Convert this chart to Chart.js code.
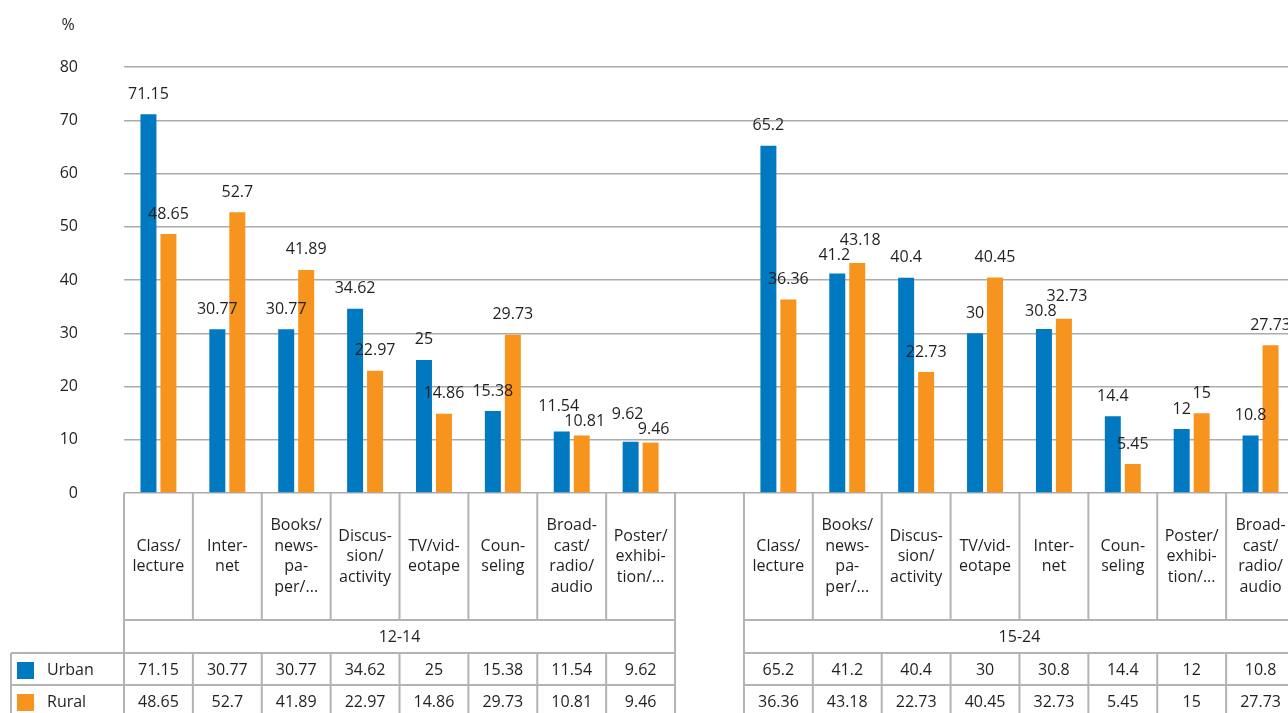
<!DOCTYPE html>
<html>
<head>
<meta charset="utf-8">
<script src="https://cdn.jsdelivr.net/npm/chart.js@4/dist/chart.umd.min.js"></script>
<style>
  html, body { margin: 0; padding: 0; background: #fff; overflow: hidden; }
  #wrap { width: 1300px; height: 713px; }
</style>
</head>
<body>
<div id="wrap"><canvas id="chart" width="1300" height="713"></canvas></div>
<script>
// categories per age group (wrapped the same way as the source table)
const catsYoung = [
  ['Class/', 'lecture'], ['Inter-', 'net'], ['Books/', 'news-', 'pa-', 'per/...'],
  ['Discus-', 'sion/', 'activity'], ['TV/vid-', 'eotape'], ['Coun-', 'seling'],
  ['Broad-', 'cast/', 'radio/', 'audio'], ['Poster/', 'exhibi-', 'tion/...']
];
const catsOld = [
  ['Class/', 'lecture'], ['Books/', 'news-', 'pa-', 'per/...'], ['Discus-', 'sion/', 'activity'],
  ['TV/vid-', 'eotape'], ['Inter-', 'net'], ['Coun-', 'seling'],
  ['Poster/', 'exhibi-', 'tion/...'], ['Broad-', 'cast/', 'radio/', 'audio']
];
const groupNames = ['12-14', '15-24'];
const seriesNames = ['Urban', 'Rural'];

const urbanYoung = [71.15, 30.77, 30.77, 34.62, 25, 15.38, 11.54, 9.62];
const ruralYoung = [48.65, 52.7, 41.89, 22.97, 14.86, 29.73, 10.81, 9.46];
const urbanOld   = [65.2, 41.2, 40.4, 30, 30.8, 14.4, 12, 10.8];
const ruralOld   = [36.36, 43.18, 22.73, 40.45, 32.73, 5.45, 15, 27.73];

const yTicks = [0, 10, 20, 30, 40, 50, 60, 70, 80];

const BLUE = '#0079c1';
const ORANGE = '#f7941d';
const TEXT = '#231f20';
const LINE = '#b3b3b3';
const FONT = '"Open Sans", sans-serif';

// one empty slot between the two age groups
const labels = [...catsYoung, [''], ...catsOld];
const urbanData = [...urbanYoung, null, ...urbanOld];
const ruralData = [...ruralYoung, null, ...ruralOld];
const groups = [
  { name: groupNames[0], start: 0, end: catsYoung.length },
  { name: groupNames[1], start: catsYoung.length + 1, end: labels.length }
];

// value labels above bars; the pair in a category is pushed apart if they collide
const valueLabels = {
  id: 'valueLabels',
  afterDatasetsDraw(chart) {
    const ctx = chart.ctx;
    ctx.save();
    ctx.font = '16px ' + FONT;
    ctx.fillStyle = TEXT;
    ctx.textAlign = 'center';
    ctx.textBaseline = 'middle';
    const m0 = chart.getDatasetMeta(0).data;
    const m1 = chart.getDatasetMeta(1).data;
    labels.forEach((_, i) => {
      const a = urbanData[i], b = ruralData[i];
      if (a == null) return;
      const la = { t: String(a), x: m0[i].x, y: m0[i].y - 20 };
      const lb = { t: String(b), x: m1[i].x, y: m1[i].y - 20 };
      const wa = ctx.measureText(la.t).width, wb = ctx.measureText(lb.t).width;
      const overlapX = (wa + wb) / 2 + 2 - (lb.x - la.x);
      const dy = Math.abs(la.y - lb.y);
      if (overlapX > 0 && dy < 15) {
        const push = (15 - dy) / 2;
        const [hi, lo] = la.y < lb.y ? [la, lb] : [lb, la];
        hi.y -= push; lo.y += push;
        la.x -= 3; lb.x += 3;
      }
      ctx.fillText(la.t, la.x, la.y);
      ctx.fillText(lb.t, lb.x, lb.y);
    });
    ctx.restore();
  }
};

const dataTable = {
  id: 'dataTable',
  afterDraw(chart) {
    const ctx = chart.ctx;
    const area = chart.chartArea;
    const cw = (area.right - area.left) / labels.length;
    const y0 = area.bottom;
    const yCat = y0 + 127, yGrp = yCat + 33, yUrb = yGrp + 32, yRur = yUrb + 32;
    const legLeft = 11;

    const line = (x1, y1, x2, y2) => {
      ctx.beginPath(); ctx.moveTo(x1, y1); ctx.lineTo(x2, y2); ctx.stroke();
    };

    ctx.save();
    ctx.strokeStyle = LINE;
    ctx.lineWidth = 2;

    // legend cells
    [yGrp, yUrb, yRur].forEach(y => line(legLeft, y, area.left, y));
    line(legLeft, yGrp, legLeft, yRur);

    groups.forEach(g => {
      const gx0 = area.left + g.start * cw;
      const gx1 = area.left + g.end * cw;
      [yCat, yGrp, yUrb, yRur].forEach(y => line(gx0, y, gx1, y));
      line(gx0, y0, gx0, yRur);
      line(gx1, y0, gx1, yRur);
      for (let i = g.start + 1; i < g.end; i++) {
        const x = area.left + i * cw;
        line(x, y0, x, yCat);
        line(x, yGrp, x, yRur);
      }
    });

    ctx.font = '16px ' + FONT;
    ctx.fillStyle = TEXT;
    ctx.textAlign = 'center';
    ctx.textBaseline = 'middle';

    const xs = chart.scales.x;
    labels.forEach((lab, i) => {
      if (urbanData[i] == null) return;
      const cx = xs.getPixelForValue(i);
      const lh = 20.5;
      const top = (y0 + yCat) / 2 - (lab.length - 1) * lh / 2;
      lab.forEach((t, k) => ctx.fillText(t, cx, top + k * lh));
      ctx.fillText(String(urbanData[i]), cx, (yGrp + yUrb) / 2 + 1);
      ctx.fillText(String(ruralData[i]), cx, (yUrb + yRur) / 2 + 1);
    });

    groups.forEach(g => {
      const gx0 = area.left + g.start * cw;
      const gx1 = area.left + g.end * cw;
      ctx.fillText(g.name, (gx0 + gx1) / 2, (yCat + yGrp) / 2 + 1);
    });

    // legend keys
    [[BLUE, yGrp], [ORANGE, yUrb]].forEach(([c, y], k) => {
      ctx.fillStyle = c;
      ctx.fillRect(17, y + 9, 17, 17);
      ctx.fillStyle = TEXT;
      ctx.textAlign = 'left';
      ctx.fillText(seriesNames[k], 47, y + 17);
    });

    // unit label
    ctx.textAlign = 'center';
    ctx.fillText('%', 68, 25);
    ctx.restore();
  }
};

new Chart(document.getElementById('chart'), {
  type: 'bar',
  data: {
    labels,
    datasets: [
      { label: seriesNames[0], data: urbanData, backgroundColor: BLUE },
      { label: seriesNames[1], data: ruralData, backgroundColor: ORANGE }
    ]
  },
  options: {
    responsive: false,
    animation: false,
    layout: { padding: { top: 67, bottom: 220, left: 0, right: 5 } },
    datasets: { bar: { categoryPercentage: 0.58, barPercentage: 0.8 } },
    plugins: { legend: { display: false }, tooltip: { enabled: false } },
    scales: {
      x: { display: false },
      y: {
        min: 0,
        max: 80,
        afterBuildTicks: (s) => { s.ticks = yTicks.map(v => ({ value: v })); },
        afterFit: (s) => { s.width = 124; },
        border: { display: false },
        grid: { color: '#ababab', lineWidth: 1.5, drawTicks: false },
        ticks: { padding: 46, color: TEXT, font: { family: FONT, size: 16 } }
      }
    }
  },
  plugins: [valueLabels, dataTable]
});
</script>
</body>
</html>
